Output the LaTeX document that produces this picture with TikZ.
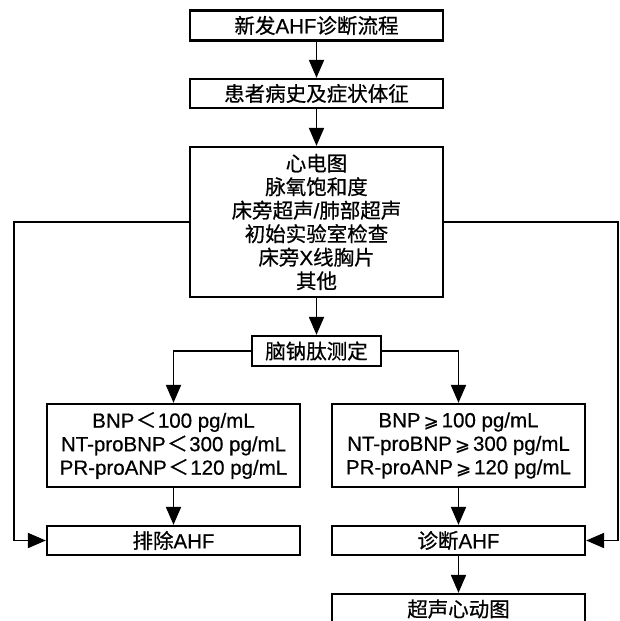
\documentclass[tikz,border=0pt]{standalone}
\usepackage{fontspec}
\setmainfont[FakeBold=0.5]{Liberation Sans}
\newfontfamily\cjkfont[FakeBold=0.6]{Noto Sans CJK SC}
\newfontfamily\symfont[FakeBold=0.5]{DejaVu Sans}
\newcommand{\zhtext}[1]{{\cjkfont #1}}
\newcommand{\lessfw}{\hspace{1.5pt}{\cjkfont ＜}\hspace{1.5pt}}
\newcommand{\geqsl}{\hspace{3pt}{\symfont\fontsize{18}{20}\selectfont ⩾}\hspace{3pt}}
\usetikzlibrary{arrows.meta}

\tikzset{
  box/.style={draw=black, line width=2.3pt, fill=white, inner sep=0pt,
    minimum width=253pt, align=center,
    font=\fontsize{20.5}{23.5}\selectfont},
  link/.style={line width=1.9pt, -{Triangle[length=18pt,width=15pt]}}
}

\begin{document}
\begin{tikzpicture}[x=1pt, y=-1pt]
  \useasboundingbox (0,0) rectangle (619,621);
  \clip (0,0) rectangle (619,621);

  % main column
  \node[box, minimum height=30pt] (start) at (316.5,25.5)
    {\zhtext{新发}AHF\zhtext{诊断流程}};
  \node[box, minimum height=29pt] (hist) at (316.5,93.5)
    {\zhtext{患者病史及症状体征}};
  \node[box, minimum height=150pt] (exam) at (316.5,222)
    {\zhtext{心电图}\\
     \zhtext{脉氧饱和度}\\
     \zhtext{床旁超声}/\zhtext{肺部超声}\\
     \zhtext{初始实验室检查}\\
     \zhtext{床旁}X\zhtext{线胸片}\\
     \zhtext{其他}};
  \node[box, minimum width=129pt, minimum height=30pt] (np) at (316.5,351)
    {\zhtext{脑钠肽测定}};

  % threshold boxes
  \node[box, minimum height=83pt] (low) at (173.5,445.5)
    {BNP\lessfw100 pg/mL\\
     NT-proBNP\lessfw300 pg/mL\\
     PR-proANP\lessfw120 pg/mL};
  \node[box, minimum height=83pt] (high) at (458.5,445.5)
    {BNP\geqsl100 pg/mL\\
     NT-proBNP\geqsl300 pg/mL\\
     PR-proANP\geqsl120 pg/mL};

  % outcomes
  \node[box, minimum height=29pt] (rule) at (173.5,540.5)
    {\zhtext{排除}AHF};
  \node[box, minimum height=29pt] (diag) at (458.5,540.5)
    {\zhtext{诊断}AHF};
  \node[box, minimum height=30pt] (echo) at (458.5,609)
    {\zhtext{超声心动图}};

  % side rails
  \coordinate (railL) at (14,0);
  \coordinate (railR) at (618,0);

  % connectors
  \draw[link] (start) -- (hist);
  \draw[link] (hist) -- (exam);
  \draw[link] (exam) -- (np);
  \draw[link] (np.west) -| (low.north);
  \draw[link] (np.east) -| (high.north);
  \draw[link] (low) -- (rule);
  \draw[link] (high) -- (diag);
  \draw[link] (diag) -- (echo);
  \draw[link] (exam.west) -- (exam.west -| railL) |- (rule.west);
  \draw[link] (exam.east) -- (exam.east -| railR) |- (diag.east);
\end{tikzpicture}
\end{document}
